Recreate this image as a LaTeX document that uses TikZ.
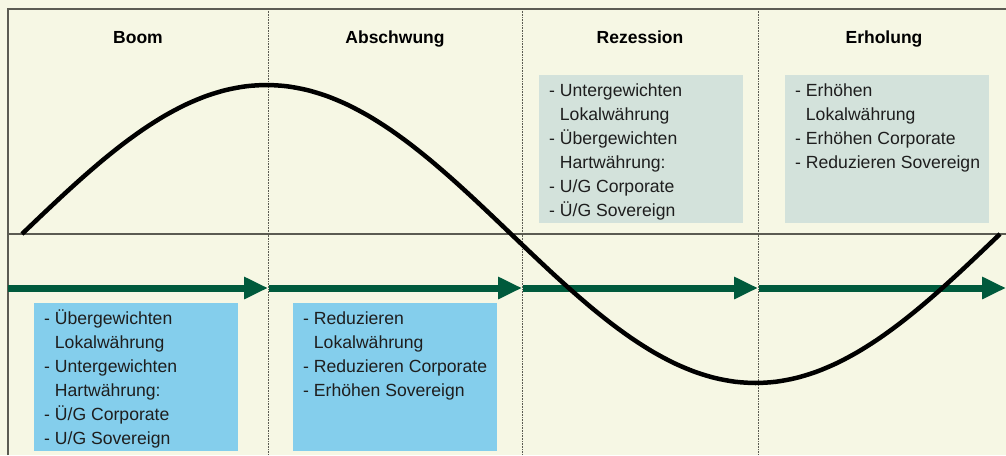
\documentclass[tikz,border=0pt]{standalone}
\usepackage{fontspec}
\setmainfont{Liberation Sans}
\usetikzlibrary{arrows.meta}
\definecolor{cream}{HTML}{F6F7E4}
\definecolor{phasegreen}{HTML}{005A3C}
\definecolor{boxblue}{HTML}{84CEEC}
\definecolor{boxgrey}{HTML}{D3E2DB}
\definecolor{framegrey}{HTML}{5B5B52}
\definecolor{inkgrey}{HTML}{1E1E1E}
\newcommand{\hang}{\phantom{- }}
\newcommand{\topline}{\rule{0pt}{17pt}}

\begin{document}
\begin{tikzpicture}[x = 1pt, y = -1pt,
    phase/.style = {font=\fontsize{17.5}{21}\selectfont\bfseries, anchor=base},
    infobox/.style = {anchor=north west, minimum width=204pt, minimum height=148pt, inner sep=0pt},
    infotext/.style = {anchor=north west, align=left, inner sep=0pt, text=inkgrey, font=\fontsize{17.6}{24}\selectfont},
    cycle/.style = {line width=7pt, phasegreen, -{Triangle[length=24pt, width=21pt]}},
    divider/.style = {densely dotted, framegrey, line width=0.6pt}]
        \useasboundingbox (0,0) rectangle (1006,455);
        \fill [cream] (0,0) rectangle (1006,455);
        % frame and axis
        \draw [framegrey, line width=1.4pt] (8,455) -- (8,9) -- (1006,9);
        \draw [framegrey, line width=1.4pt] (8,234) -- (1006,234);
        \foreach \x in {268,522,758}
            \draw [divider] (\x,9) -- (\x,455);
        % phases
        \node [phase] (boom) at (138,43) {Boom};
        \node [phase] (abschwung) at (395,43) {Abschwung};
        \node [phase] (rezession) at (640,43) {Rezession};
        \node [phase] (erholung) at (884,43) {Erholung};
        % boxes
        \node [infobox, fill=boxblue] (boombox) at (34,303) {};
        \node [infotext] (boomtext) at ([shift={(10,4)}]boombox.north west)
            {\topline- Übergewichten\\ \hang Lokalwährung\\ - Untergewichten\\ \hang Hartwährung:\\ - Ü/G Corporate\\ - U/G Sovereign};
        \node [infobox, fill=boxblue] (abschwungbox) at (293,303) {};
        \node [infotext] (abschwungtext) at ([shift={(10,4)}]abschwungbox.north west)
            {\topline- Reduzieren\\ \hang Lokalwährung\\ - Reduzieren Corporate\\ - Erhöhen Sovereign};
        \node [infobox, fill=boxgrey] (rezessionbox) at (539,75) {};
        \node [infotext] (rezessiontext) at ([shift={(10,4)}]rezessionbox.north west)
            {\topline- Untergewichten\\ \hang Lokalwährung\\ - Übergewichten\\ \hang Hartwährung:\\ - U/G Corporate\\ - Ü/G Sovereign};
        \node [infobox, fill=boxgrey] (erholungbox) at (785,75) {};
        \node [infotext] (erholungtext) at ([shift={(10,4)}]erholungbox.north west)
            {\topline- Erhöhen\\ \hang Lokalwährung\\ - Erhöhen Corporate\\ - Reduzieren Sovereign};
        % cycle arrows
        \coordinate (c0) at (8,288);
        \coordinate (c1) at (268,288);
        \coordinate (c2) at (522,288);
        \coordinate (c3) at (758,288);
        \coordinate (c4) at (1006,288);
        \draw [cycle] (c0) -- (c1);
        \draw [cycle] ([xshift=1pt]c1) -- (c2);
        \draw [cycle] ([xshift=1pt]c2) -- (c3);
        \draw [cycle] ([xshift=1pt]c3) -- (c4);
        % business cycle
        \draw [line width=4.5pt, line join=round] plot [domain=0:360, samples=49, smooth] ({22+\x/360*978},{234-149*sin(\x)});
    \end{tikzpicture}
\end{document}
